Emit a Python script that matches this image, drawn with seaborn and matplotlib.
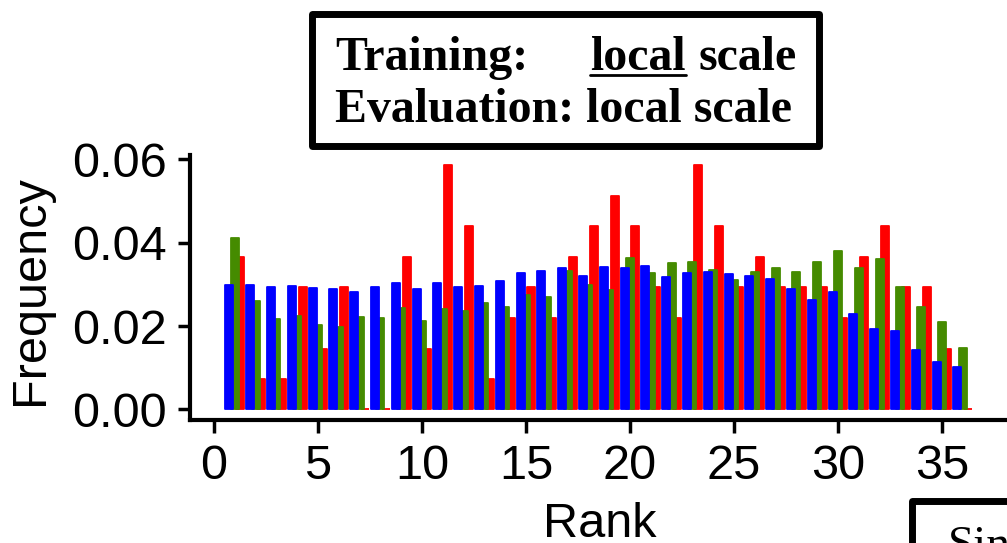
import numpy as np
import pandas as pd
import matplotlib
matplotlib.use("Agg")
import matplotlib.pyplot as plt
import seaborn as sns
from matplotlib.patches import Rectangle
from matplotlib.lines import Line2D

# ---------------- data ----------------
ranks = list(range(1, 37))
blue_vals = [0.0298, 0.0298, 0.0294, 0.0297, 0.0292, 0.0288, 0.0282, 0.0294, 0.0304, 0.0290,
             0.0304, 0.0293, 0.0297, 0.0307, 0.0327, 0.0333, 0.0339, 0.0321, 0.0342, 0.0340,
             0.0344, 0.0318, 0.0326, 0.0330, 0.0324, 0.0319, 0.0312, 0.0289, 0.0262, 0.0281,
             0.0230, 0.0193, 0.0188, 0.0142, 0.0115, 0.0102]
green_vals = [0.0410, 0.0260, 0.0218, 0.0224, 0.0203, 0.0198, 0.0222, 0.0220, 0.0244, 0.0212,
              0.0240, 0.0237, 0.0255, 0.0245, 0.0275, 0.0270, 0.0332, 0.0298, 0.0286, 0.0362,
              0.0326, 0.0350, 0.0353, 0.0334, 0.0310, 0.0330, 0.0340, 0.0330, 0.0354, 0.0379,
              0.0340, 0.0360, 0.0294, 0.0246, 0.0210, 0.0148]
red_vals = [0.0366, 0.0073, 0.0073, 0.0293, 0.0146, 0.0293, 0.0000, 0.0000, 0.0366, 0.0146,
            0.0585, 0.0439, 0.0073, 0.0220, 0.0293, 0.0220, 0.0366, 0.0439, 0.0512, 0.0439,
            0.0293, 0.0220, 0.0585, 0.0439, 0.0293, 0.0366, 0.0293, 0.0293, 0.0293, 0.0220,
            0.0366, 0.0439, 0.0293, 0.0293, 0.0146, 0.0000]
x_ticks = [0, 5, 10, 15, 20, 25, 30, 35]
y_ticks = [0.00, 0.02, 0.04, 0.06]
y_tick_labels = ["0.00", "0.02", "0.04", "0.06"]
x_label = "Rank"
y_label = "Frequency"

# ---------------- style ----------------
sns.set_theme(style="ticks")
plt.rcParams['font.family'] = ['Liberation Sans', 'DejaVu Sans']
plt.rcParams['axes.facecolor'] = 'white'
plt.rcParams['figure.facecolor'] = 'white'

W, H = 1007, 543
fig = plt.figure(figsize=(W / 100, H / 100), dpi=100)


def fx(px):
    return px / W


def fy(py):
    return 1 - py / H


AX_L, AX_R, AX_T, AX_B = 190, 1046, 155, 420
ax = fig.add_axes([fx(AX_L), fy(AX_B), fx(AX_R) - fx(AX_L), fy(AX_T) - fy(AX_B)])

series = [
    (red_vals, "#FF0000", 0.26),
    (green_vals, "#458B00", 0.0),
    (blue_vals, "#0000FF", -0.26),
]
for vals, color, off in series:
    df = pd.DataFrame({"x": np.array(ranks, dtype=float) + off, "y": vals})
    sns.barplot(data=df, x="x", y="y", native_scale=True, width=0.38, color=color,
                edgecolor=color, linewidth=1.3, saturation=1, errorbar=None, ax=ax)

for p in ax.patches:
    p.set_joinstyle("round")

ax.set_xlim(-1.154, 40)
ax.set_ylim(-0.00252, 0.0610)
sns.despine(ax=ax)
for side in ("left", "bottom"):
    ax.spines[side].set_linewidth(3)
    ax.spines[side].set_color("black")

ax.set_xticks(x_ticks)
ax.set_xticklabels([str(t) for t in x_ticks])
ax.set_yticks(y_ticks)
ax.set_yticklabels(y_tick_labels)
ax.tick_params(axis="both", length=9, width=2.5, color="black", labelsize=35, labelcolor="black")
ax.tick_params(axis="x", pad=8)
ax.tick_params(axis="y", pad=8)

ax.set_xlabel(x_label, fontsize=35, color="black")
ax.set_ylabel(y_label, fontsize=35, color="black")
ax.xaxis.set_label_coords((600 - AX_L) / (AX_R - AX_L), (AX_B - 502) / (AX_B - AX_T))
ax.yaxis.set_label_coords((53 - AX_L) / (AX_R - AX_L), (AX_B - 290) / (AX_B - AX_T))
ax.grid(False)

# ---------------- title box ----------------
fig.add_artist(Rectangle((fx(311.5), fy(146)), fx(818.5) - fx(311.5), fy(13.5) - fy(146),
                         transform=fig.transFigure, fill=False, lw=5, ec="black",
                         joinstyle="round"))
serif_bold = dict(fontfamily=["Liberation Serif", "DejaVu Serif"], fontweight="bold",
                  fontsize=34.5, color="black", va="baseline", ha="left")
fig.text(fx(335), fy(70), "Training:", **serif_bold)
fig.text(fx(590), fy(70), "local", **serif_bold)
fig.text(fx(698), fy(70), "scale", **serif_bold)
fig.add_artist(Line2D([fx(590), fx(686)], [fy(75), fy(75)], transform=fig.transFigure,
                      color="black", lw=2))
fig.text(fx(335), fy(122), "Evaluation: local scale", **serif_bold)

# ---------------- partially visible box at bottom right ----------------
fig.add_artist(Rectangle((fx(911.5), fy(700)), fx(1200) - fx(911.5), fy(500.5) - fy(700),
                         transform=fig.transFigure, fill=False, lw=5, ec="black",
                         joinstyle="round"))
fig.text(fx(948), fy(558), "Single", fontfamily=["Liberation Serif", "DejaVu Serif"],
         fontsize=34, color="black", va="baseline", ha="left")

fig.savefig("out.png", dpi=100)
